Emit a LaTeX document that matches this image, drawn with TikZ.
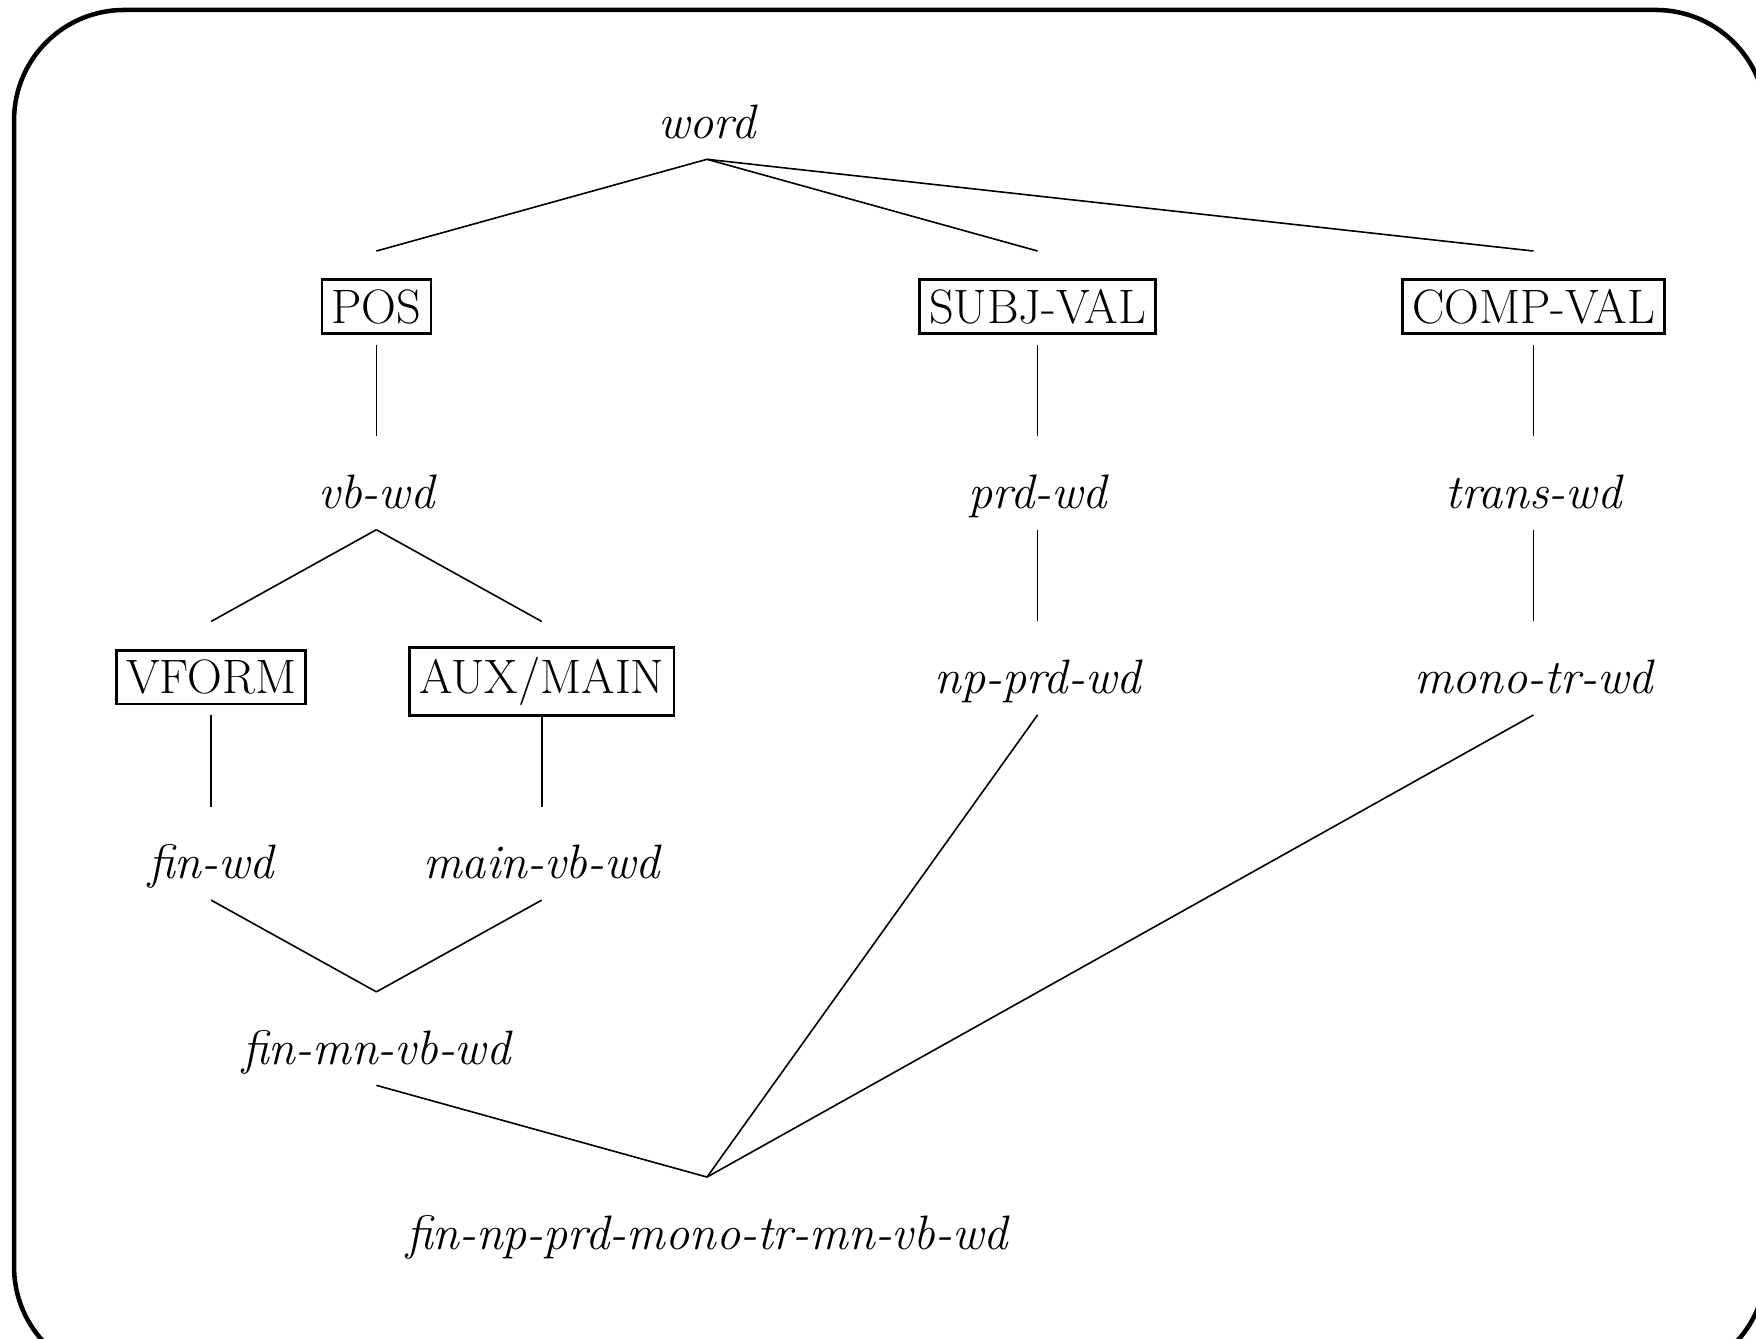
\documentclass[tikz,border=0pt]{standalone}
\usetikzlibrary{calc}
\tikzset{
  lab/.style={font=\fontsize{18.1}{22}\selectfont\itshape, anchor=base, inner sep=0pt, yshift=-0.04cm},
  feat/.style={draw, line width=1pt, font=\fontsize{18.1}{22}\selectfont, anchor=base, inner sep=3.6pt, yshift=-0.04cm},
  tline/.style={line width=0.6pt},
  frame/.style={line width=1.7pt, rounded corners=1.45cm},
}
\begin{document}
\begin{tikzpicture}[x=2.175cm,y=2.437cm]
\useasboundingbox (-9.303cm,-15.842cm) rectangle (13.803cm,1.776cm);
\clip (-9.303cm,-15.842cm) rectangle (13.803cm,1.776cm);
\draw[frame] (-9.118cm,-16.342cm) rectangle (13.934cm,1.645cm);

% ============ type hierarchy ===============
\node[lab] (word) at (0,0) {word};
\node[feat] (pos) at (-2,-1) {POS};
\node[feat] (subjval) at (2,-1) {SUBJ-VAL};
\node[feat] (compval) at (5,-1) {COMP-VAL};
\node[lab] (vbwd) at (-2,-2) {vb-wd};
\node[lab] (prdwd) at (2,-2) {prd-wd};
\node[lab] (transwd) at (5,-2) {trans-wd};
\node[feat] (vform) at (-3,-3) {VFORM};
\node[feat] (auxmain) at (-1,-3) {AUX/MAIN};
\node[lab] (npprdwd) at (2,-3) {np-prd-wd};
\node[lab] (monotrwd) at (5,-3) {mono-tr-wd};
\node[lab] (finwd) at (-3,-4) {fin-wd};
\node[lab] (mainvbwd) at (-1,-4) {main-vb-wd};
\node[lab] (finmnvbwd) at (-2,-5) {fin-mn-vb-wd};
\node[lab] (finall) at (0,-6) {fin-np-prd-mono-tr-mn-vb-wd};

% links: below the upper type, above the lower one
\foreach \a/\b in {word/pos, word/subjval, word/compval,
    pos/vbwd, subjval/prdwd, compval/transwd,
    vbwd/vform, vbwd/auxmain, prdwd/npprdwd, transwd/monotrwd,
    vform/finwd, auxmain/mainvbwd,
    finwd/finmnvbwd, mainvbwd/finmnvbwd,
    finmnvbwd/finall, npprdwd/finall, monotrwd/finall}
  \draw[tline] ($(\a.base)+(0pt,-0.28cm)$) -- ($(\b.base)+(0pt,0.95cm)$);

\end{tikzpicture}
\end{document}
